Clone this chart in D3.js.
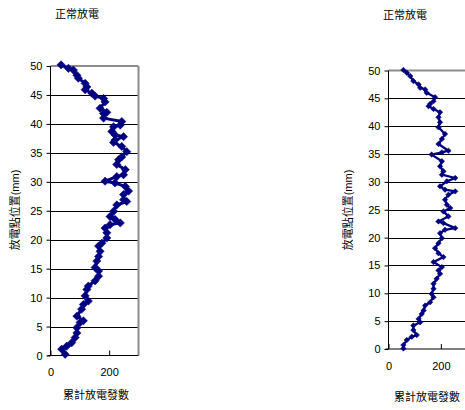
<!DOCTYPE html>
<html><head><meta charset="utf-8">
<script src="https://cdn.jsdelivr.net/npm/d3@7"></script>
<style>
html,body{margin:0;padding:0;background:#fff;}
svg text{font-family:"Liberation Sans",Arial,"Noto Sans CJK TC",sans-serif;fill:#000;}
</style></head>
<body><svg id="c" width="465" height="410"></svg>
<script>
const chartTitle = "正常放電";
const yAxisTitle = "放電點位置(mm)";
const xAxisTitle = "累計放電發數";
const yTicks = [0,5,10,15,20,25,30,35,40,45,50];
const xTicks = [0,200];

// left panel: discharge position (mm) and cumulative count
const leftPos = [50.2,49.6,49.3,48.4,47.9,47.0,46.4,45.9,45.3,44.8,44.4,43.8,42.7,42.0,41.8,41.0,40.4,39.8,39.5,38.7,38.1,37.8,37.2,36.8,36.1,35.2,34.3,33.8,33.0,32.1,31.2,30.9,30.1,29.8,29.2,28.4,27.8,26.9,26.6,26.0,24.9,24.0,23.5,22.9,22.6,22.0,21.2,20.3,19.4,18.9,18.0,17.1,16.3,15.2,14.6,13.7,12.9,12.0,11.4,10.3,9.4,8.8,8.0,6.8,6.0,5.7,4.8,3.9,3.1,2.2,1.6,1.1,0.2];
const leftCount = [36,61,78,90,95,118,124,118,141,152,181,186,169,192,181,181,243,238,215,209,220,249,220,215,243,260,243,232,226,255,249,226,186,220,255,266,249,249,260,226,215,203,220,238,203,186,192,192,175,164,169,164,158,152,164,164,152,129,124,118,129,112,106,90,112,101,90,90,84,72,55,38,50];

// right panel
const rightPos = [50.1,49.6,49.0,48.1,47.5,46.9,46.6,46.0,45.2,44.5,44.0,43.6,43.1,42.5,41.6,40.7,39.8,38.6,37.7,36.8,35.6,35.3,34.9,33.7,32.8,31.9,31.3,30.7,30.1,29.2,28.6,28.3,27.7,26.8,25.9,25.3,24.7,23.8,22.9,22.6,21.7,21.4,20.8,19.9,19.0,18.1,17.2,16.5,15.6,14.7,14.1,13.5,12.6,11.7,10.8,9.9,9.3,8.4,7.8,6.9,6.3,5.4,4.8,4.2,3.4,2.5,2.2,1.6,0.7,0.1];
const rightCount = [57,70,83,95,115,121,140,146,178,172,159,153,172,197,191,197,191,216,204,191,229,204,165,204,197,210,204,255,223,197,216,255,229,216,223,236,210,229,191,210,255,216,197,204,191,178,191,210,172,204,191,197,184,172,172,165,172,159,140,134,127,115,121,95,95,108,89,70,57,57];

const svg = d3.select("#c");

function panel(o){
  const x = d3.scaleLinear().domain([0,300]).range([o.x0, o.x1]);
  const y = d3.scaleLinear().domain([0,50]).range([o.y0, o.y1]);
  const g = svg.append("g");
  g.append("text").attr("x", o.titleX).attr("y", o.titleY).attr("text-anchor","middle")
    .style("font-size","11px").text(chartTitle);
  g.selectAll("line.grid").data(yTicks.filter(d=>d>0 && d<50)).join("line")
    .attr("x1", o.x0).attr("x2", x(300)).attr("y1", d=>Math.round(y(d))+0.5).attr("y2", d=>Math.round(y(d))+0.5)
    .attr("stroke","#000").attr("stroke-width",1);
  g.append("line").attr("x1",o.x0).attr("x2",x(300)).attr("y1",y(50)).attr("y2",y(50))
    .attr("stroke","#8c8c8c").attr("stroke-width",2);
  g.append("line").attr("x1",x(300)).attr("x2",x(300)).attr("y1",y(50)).attr("y2",y(0))
    .attr("stroke","#8c8c8c").attr("stroke-width",2);
  const ya = d3.axisLeft(y).tickValues(yTicks).tickSize(4).tickFormat(d3.format("d"));
  const yg = g.append("g").attr("transform",`translate(${o.x0},0)`).call(ya);
  yg.select(".domain").attr("stroke","#000").attr("d",`M-0,${y(0)}V${y(50)}`);
  yg.selectAll(".tick text").style("font-size","11px").attr("x",-8);
  const xa = d3.axisBottom(x).tickValues(xTicks).tickSize(0).tickFormat(d3.format("d"));
  const xg = g.append("g").attr("transform",`translate(0,${y(0)})`).call(xa);
  xg.select(".domain").attr("stroke","#000").attr("d",`M${o.x0-3},0H${x(300)}`);
  xg.selectAll(".tick text").style("font-size","11px").attr("y",13);
  xg.selectAll(".tick").append("line").attr("y1",0).attr("y2",-5).attr("stroke","#000");
  g.append("text").attr("transform",`translate(${o.yTitleX},${o.yTitleY}) rotate(-90)`)
    .attr("text-anchor","middle").style("font-size","11px").text(yAxisTitle);
  g.append("text").attr("x",o.xTitleX).attr("y",o.xTitleY).attr("text-anchor","middle")
    .style("font-size","11px").text(xAxisTitle);
  const pts = o.pos.map((p,i)=>({p, c:o.count[i]}));
  const line = d3.line().x(d=>x(d.c)).y(d=>y(d.p));
  g.append("path").datum(pts).attr("d",line).attr("fill","none")
    .attr("stroke","#000080").attr("stroke-width",o.lw).attr("stroke-linejoin","round");
  const sym = d3.symbol().type(d3.symbolSquare).size(o.ms);
  g.selectAll("path.m").data(pts).join("path").attr("class","m")
    .attr("transform",d=>`translate(${x(d.c)},${y(d.p)}) rotate(45)`)
    .attr("d",sym).attr("fill","#000080").attr("stroke","#000080").attr("stroke-width",0.5);
}

panel({x0:50.5, x1:138.5, y0:355.5, y1:66, pos:leftPos, count:leftCount,
  titleX:77, titleY:18, yTitleX:19, yTitleY:210, xTitleX:96, xTitleY:399, lw:3, ms:34});
panel({x0:388.5, x1:467, y0:349, y1:70.5, pos:rightPos, count:rightCount,
  titleX:405, titleY:19, yTitleX:352, yTitleY:210, xTitleX:427, xTitleY:401, lw:2.3, ms:15});
</script></body></html>
